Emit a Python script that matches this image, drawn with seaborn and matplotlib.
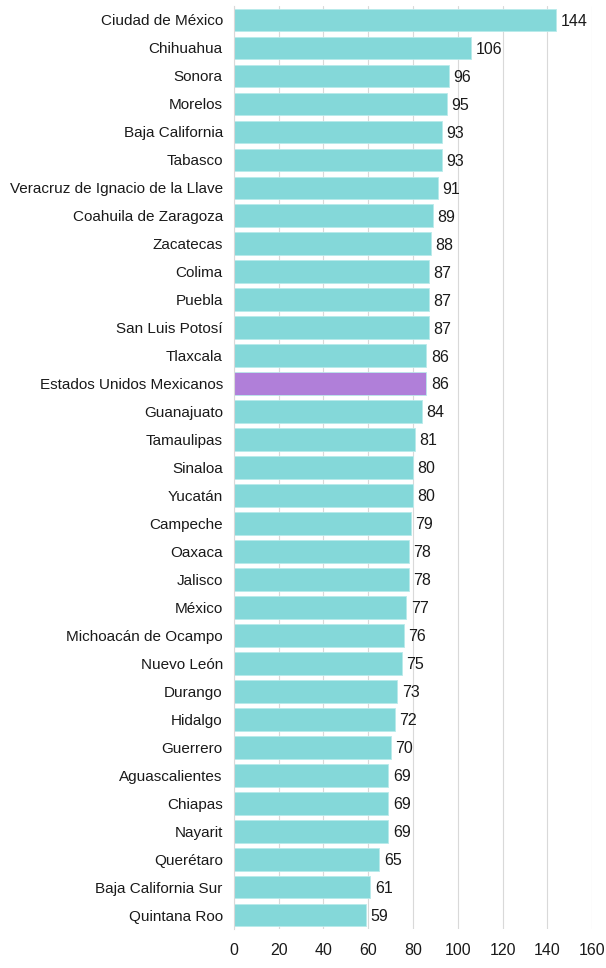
import matplotlib
matplotlib.use('Agg')
import matplotlib.pyplot as plt
import seaborn as sns
import pandas as pd

estados = ['Ciudad de México', 'Chihuahua', 'Sonora', 'Morelos', 'Baja California',
           'Tabasco', 'Veracruz de Ignacio de la Llave', 'Coahuila de Zaragoza',
           'Zacatecas', 'Colima', 'Puebla', 'San Luis Potosí', 'Tlaxcala',
           'Estados Unidos Mexicanos', 'Guanajuato', 'Tamaulipas', 'Sinaloa',
           'Yucatán', 'Campeche', 'Oaxaca', 'Jalisco', 'México',
           'Michoacán de Ocampo', 'Nuevo León', 'Durango', 'Hidalgo', 'Guerrero',
           'Aguascalientes', 'Chiapas', 'Nayarit', 'Querétaro',
           'Baja California Sur', 'Quintana Roo']
valores = [144, 106, 96, 95, 93, 93, 91, 89, 88, 87, 87, 87, 86, 86, 84, 81, 80,
           80, 79, 78, 78, 77, 76, 75, 73, 72, 70, 69, 69, 69, 65, 61, 59]
xticks = [0, 20, 40, 60, 80, 100, 120, 140, 160]

df = pd.DataFrame({'estado': estados, 'valor': valores})
df['grupo'] = ['nacional' if e == 'Estados Unidos Mexicanos' else 'estado' for e in estados]

sns.set_style('white')
plt.rcParams['font.family'] = ['Liberation Sans', 'DejaVu Sans']

fig = plt.figure(figsize=(6.06, 9.68), dpi=100)
ax = fig.add_axes([0.386, 0.040, 0.591, 0.954])

sns.barplot(data=df, x='valor', y='estado', hue='grupo',
            palette={'estado': '#84d8d9', 'nacional': '#b07fd9'},
            saturation=1, dodge=False, legend=False, width=0.8, ax=ax,
            edgecolor='#b8eaea', linewidth=0.6)

for i, v in enumerate(valores):
    ax.text(v + 2, i + 0.05, str(v), va='center', ha='left', fontsize=11.5, color='#1a1a1a')

ax.set_xlim(0, 160)
ax.set_xticks(xticks)
ax.set_ylim(len(estados) - 0.5, -0.5)
ax.grid(axis='x', color='#d9d9d9', linewidth=0.8)
ax.set_axisbelow(True)
for s in ['top', 'right', 'bottom']:
    ax.spines[s].set_visible(False)
ax.spines['left'].set_color('#d9d9d9')
ax.tick_params(axis='y', length=0, labelsize=11, pad=8, colors='#1a1a1a')
ax.tick_params(axis='x', length=0, labelsize=11.5, pad=10, colors='#1a1a1a')
ax.set_xlabel('')
ax.set_ylabel('')

fig.savefig('out.png', dpi=100)
